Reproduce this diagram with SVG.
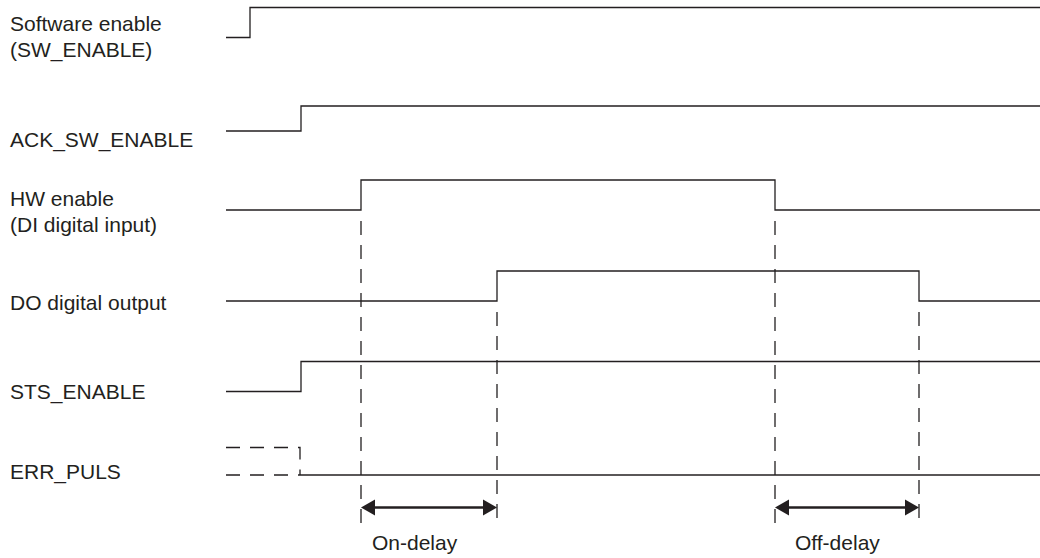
<svg xmlns="http://www.w3.org/2000/svg" width="1040" height="558" viewBox="0 0 1040 558">
<style>
.lbl{font-family:"Liberation Sans",Arial,sans-serif;font-size:21px;fill:#231f20}
.sig{fill:none;stroke:#231f20;stroke-width:1.3}
.dash{fill:none;stroke:#231f20;stroke-width:1.3;stroke-dasharray:14 10}
.arr{stroke:#231f20;stroke-width:2.6}
.head{fill:#231f20}
</style>
<rect width="1040" height="558" fill="#fff"/>
<g id="sw_enable">
<text class="lbl" x="10" y="30.5">Software enable</text>
<text class="lbl" x="10" y="57">(SW_ENABLE)</text>
<path class="sig" d="M226,37.5 H250 V7.5 H1040"/>
</g>
<g id="ack_sw_enable">
<text class="lbl" x="10" y="146.5">ACK_SW_ENABLE</text>
<path class="sig" d="M226,131 H301 V106 H1040"/>
</g>
<g id="hw_enable">
<text class="lbl" x="10" y="206">HW enable</text>
<text class="lbl" x="10" y="232">(DI digital input)</text>
<path class="sig" d="M226,210 H361 V180 H775 V210 H1040"/>
</g>
<g id="do_output">
<text class="lbl" x="10" y="310">DO digital output</text>
<path class="sig" d="M226,301 H497 V271 H919 V301 H1040"/>
</g>
<g id="sts_enable">
<text class="lbl" x="10" y="399">STS_ENABLE</text>
<path class="sig" d="M226,391.5 H301 V361.5 H1040"/>
</g>
<g id="err_puls">
<text class="lbl" x="10" y="479">ERR_PULS</text>
<path class="dash" d="M226,447.5 H300 V475"/>
<path class="dash" d="M226,475 H301"/>
<path class="sig" d="M301,475 H1040"/>
</g>
<g id="connectors">
<path class="dash" d="M361,221 V523"/>
<path class="dash" d="M497,312 V523"/>
<path class="dash" d="M775,221 V523"/>
<path class="dash" d="M919,312 V523"/>
<line class="arr" x1="372" y1="507.5" x2="486" y2="507.5"/>
<polygon class="head" points="361,507.5 375,499.5 375,515.5"/>
<polygon class="head" points="497,507.5 483,499.5 483,515.5"/>
<line class="arr" x1="786" y1="507.5" x2="908" y2="507.5"/>
<polygon class="head" points="775,507.5 789,499.5 789,515.5"/>
<polygon class="head" points="919,507.5 905,499.5 905,515.5"/>
</g>
<g id="on_delay"><text class="lbl" x="372" y="550">On-delay</text></g>
<g id="off_delay"><text class="lbl" x="795" y="550">Off-delay</text></g>
</svg>
